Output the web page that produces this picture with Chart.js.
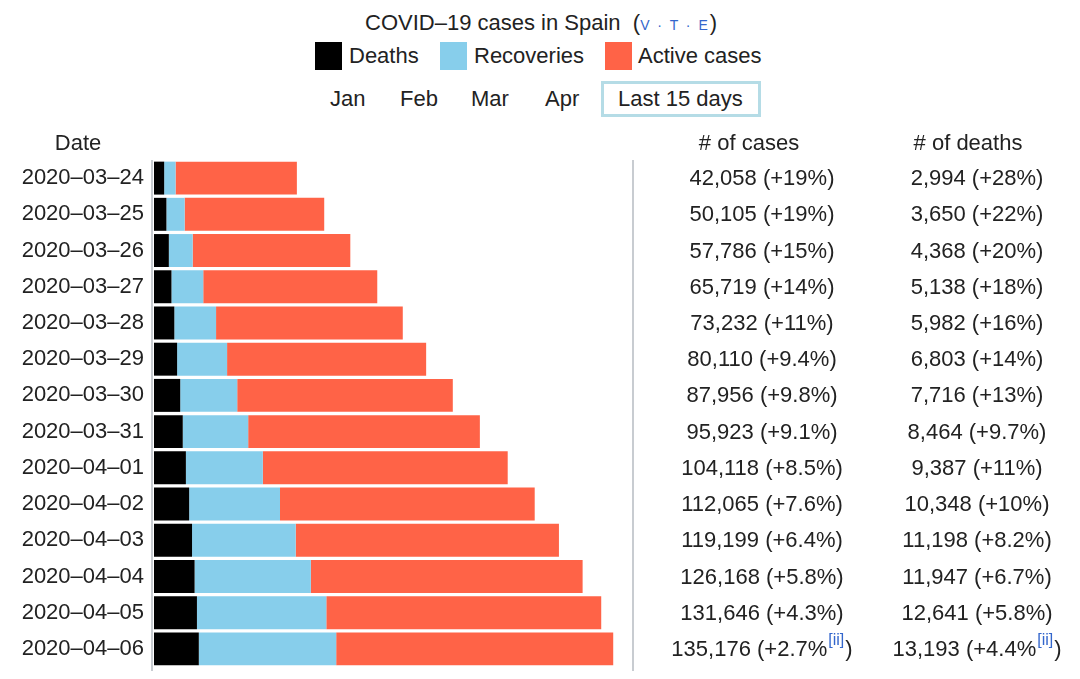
<!DOCTYPE html>
<html><head><meta charset="utf-8">
<script src="https://cdn.jsdelivr.net/npm/chart.js@4"></script>
<style>
body{margin:0;background:#fff;font-family:"Liberation Sans",Arial,sans-serif;color:#222;width:1080px;height:679px;overflow:hidden;position:relative}
.a{position:absolute;white-space:nowrap;font-size:22px;line-height:22px}
.box{position:absolute;width:27px;height:28px}
.vte{color:#3366cc;font-size:14px;letter-spacing:2px}
#btn{position:absolute;left:601px;top:81px;width:154px;height:30px;border:3px solid #b5dce6}
#wrap{position:absolute;left:0;top:125px;width:1080px;height:563px}
</style></head>
<body>
<div class="a" style="left:365px;top:12px">COVID–19 cases in Spain&nbsp; (<span class="vte">V · T · E</span>)</div>
<div class="box" style="left:315px;top:42px;background:#000"></div>
<div class="a" style="left:349px;top:45px">Deaths</div>
<div class="box" style="left:440px;top:42px;background:#87ceeb"></div>
<div class="a" style="left:474px;top:45px">Recoveries</div>
<div class="box" style="left:605px;top:42px;background:#ff6347"></div>
<div class="a" style="left:638px;top:45px">Active cases</div>
<div class="a" style="left:330px;top:88px">Jan</div>
<div class="a" style="left:400px;top:88px">Feb</div>
<div class="a" style="left:471px;top:88px">Mar</div>
<div class="a" style="left:545px;top:88px">Apr</div>
<div id="btn"></div>
<div class="a" style="left:618px;top:88px">Last 15 days</div>
<div id="wrap"><canvas id="c" width="1080" height="563"></canvas></div>
<script>
const dates = ["2020-03-24","2020-03-25","2020-03-26","2020-03-27","2020-03-28","2020-03-29","2020-03-30","2020-03-31","2020-04-01","2020-04-02","2020-04-03","2020-04-04","2020-04-05","2020-04-06"];
const deaths = [2994, 3650, 4368, 5138, 5982, 6803, 7716, 8464, 9387, 10348, 11198, 11947, 12641, 13193];
const recoveries = [3355, 5367, 7015, 9357, 12285, 14709, 16780, 19259, 22647, 26743, 30513, 34219, 38080, 40437];
const cases = [42058, 50105, 57786, 65719, 73232, 80110, 87956, 95923, 104118, 112065, 119199, 126168, 131646, 135176];
const casesChange = ["+19%","+19%","+15%","+14%","+11%","+9.4%","+9.8%","+9.1%","+8.5%","+7.6%","+6.4%","+5.8%","+4.3%","+2.7%"];
const deathsChange = ["+28%","+22%","+20%","+18%","+16%","+14%","+13%","+9.7%","+11%","+10%","+8.2%","+6.7%","+5.8%","+4.4%"];
const notes = ["","","","","","","","","","","","","","[ii]"];

const active = cases.map((c,i)=>c-deaths[i]-recoveries[i]);
const fmt = n => n.toLocaleString('en-US');
const FAM = '"Liberation Sans", Arial, sans-serif';
const FONT = '22px ' + FAM;

const textPlugin = {
  id:'textcols',
  afterDraw(chart){
    const ctx = chart.ctx, y = chart.scales.y, ca = chart.chartArea;
    ctx.save();
    ctx.strokeStyle = '#c8ccd1'; ctx.lineWidth = 2;
    ctx.beginPath();
    ctx.moveTo(ca.left-2, ca.top); ctx.lineTo(ca.left-2, ca.bottom+4);
    ctx.moveTo(ca.right, ca.top); ctx.lineTo(ca.right, ca.bottom+4);
    ctx.stroke();
    ctx.fillStyle = '#222'; ctx.font = FONT; ctx.textBaseline = 'middle'; ctx.textAlign = 'center';
    ctx.fillText('Date', 78, ca.top - 16);
    ctx.fillText('# of cases', 749, ca.top - 16);
    ctx.fillText('# of deaths', 968, ca.top - 16);
    const drawCell = (cx, cy, main, note) => {
      ctx.textAlign = 'left';
      ctx.font = FONT;
      const w1 = ctx.measureText(main).width;
      const w3 = ctx.measureText(')').width;
      ctx.font = '16px ' + FAM;
      const w2 = note ? ctx.measureText(note).width + 2 : 0;
      let x = cx - (w1 + w2 + w3) / 2;
      ctx.font = FONT; ctx.fillStyle = '#222';
      ctx.fillText(main, x, cy); x += w1;
      if (note) {
        ctx.font = '16px ' + FAM; ctx.fillStyle = '#3366cc';
        ctx.fillText(note, x + 1, cy - 9); x += w2;
      }
      ctx.font = FONT; ctx.fillStyle = '#222';
      ctx.fillText(')', x, cy);
    };
    dates.forEach((d,i)=>{
      const py = y.getPixelForValue(i) + 1;
      drawCell(762, py, fmt(cases[i]) + ' (' + casesChange[i], notes[i]);
      drawCell(977, py, fmt(deaths[i]) + ' (' + deathsChange[i], notes[i]);
    });
    ctx.restore();
  }
};

new Chart(document.getElementById('c'), {
  type:'bar',
  data:{
    labels: dates,
    datasets:[
      {label:'Deaths', data:deaths, backgroundColor:'#000000'},
      {label:'Recoveries', data:recoveries, backgroundColor:'#87ceeb'},
      {label:'Active cases', data:active, backgroundColor:'#ff6347'}
    ]
  },
  options:{
    indexAxis:'y',
    responsive:false,
    animation:false,
    layout:{padding:{left:0,right:447,top:35,bottom:14}},
    datasets:{bar:{barPercentage:0.91,categoryPercentage:1}},
    plugins:{legend:{display:false},tooltip:{enabled:false},title:{display:false}},
    scales:{
      x:{stacked:true,display:false,min:0,max:141000,
         ticks:{display:false},grid:{display:false,drawTicks:false},border:{display:false}},
      y:{stacked:true,
         grid:{display:false,drawTicks:false},
         border:{display:false},
         ticks:{color:'#222',font:{family:FAM,size:22,lineHeight:1},padding:10,
                callback(v){ return dates[v].replace(/-/g,'–'); }},
         afterFit(s){ s.width = 154; }
      }
    }
  },
  plugins:[textPlugin]
});
</script>
</body></html>
